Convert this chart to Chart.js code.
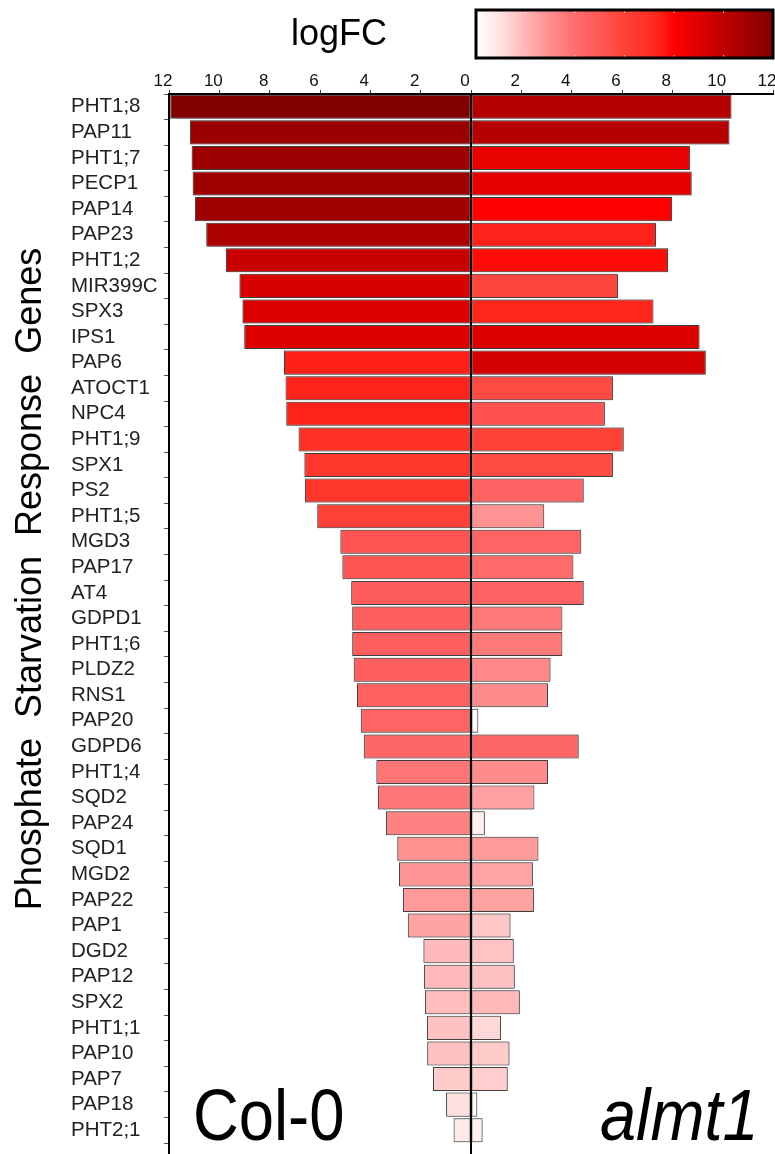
<!DOCTYPE html>
<html>
<head>
<meta charset="utf-8">
<script src="https://cdn.jsdelivr.net/npm/chart.js@4/dist/chart.umd.min.js"></script>
<style>
  html, body { margin: 0; padding: 0; background: #ffffff; }
  #wrap { width: 775px; height: 1154px; position: relative; }
</style>
</head>
<body>
<div id="wrap"><canvas id="chart" width="775" height="1154"></canvas></div>
<script>
// Phosphate starvation response genes, ordered by Col-0 response
const genes = [
  'PHT1;8', 'PAP11', 'PHT1;7', 'PECP1', 'PAP14', 'PAP23', 'PHT1;2', 'MIR399C',
  'SPX3', 'IPS1', 'PAP6', 'ATOCT1', 'NPC4', 'PHT1;9', 'SPX1', 'PS2', 'PHT1;5',
  'MGD3', 'PAP17', 'AT4', 'GDPD1', 'PHT1;6', 'PLDZ2', 'RNS1', 'PAP20', 'GDPD6',
  'PHT1;4', 'SQD2', 'PAP24', 'SQD1', 'MGD2', 'PAP22', 'PAP1', 'DGD2', 'PAP12',
  'SPX2', 'PHT1;1', 'PAP10', 'PAP7', 'PAP18', 'PHT2;1'
];

// log fold change, wild type (drawn to the left)
const col0LogFC = [
  11.95, 11.17, 11.10, 11.06, 10.97, 10.52, 9.74, 9.20,
  9.08, 9.01, 7.43, 7.37, 7.34, 6.85, 6.62, 6.60, 6.11,
  5.19, 5.11, 4.76, 4.72, 4.72, 4.66, 4.53, 4.38, 4.26,
  3.76, 3.70, 3.38, 2.93, 2.86, 2.70, 2.51, 1.89, 1.87,
  1.83, 1.75, 1.74, 1.51, 0.99, 0.69
];

// log fold change, almt1 mutant (drawn to the right)
const almt1LogFC = [
  10.35, 10.27, 8.70, 8.77, 7.99, 7.35, 7.83, 5.84,
  7.25, 9.08, 9.33, 5.64, 5.32, 6.07, 5.64, 4.48, 2.91,
  4.38, 4.07, 4.48, 3.63, 3.63, 3.16, 3.06, 0.29, 4.28,
  3.06, 2.52, 0.55, 2.68, 2.46, 2.50, 1.57, 1.70, 1.74,
  1.94, 1.19, 1.53, 1.46, 0.25, 0.46
];

const axisMax = 12;
const axisStep = 2;

// white -> red -> dark red colour scale for logFC
const colourStops = [
  [0, [255, 255, 255]], [1, [255, 224, 224]], [2, [255, 182, 182]],
  [3, [255, 142, 142]], [4, [255, 108, 108]], [5, [255, 88, 88]],
  [6, [255, 66, 56]], [7, [255, 46, 36]], [7.6, [255, 26, 18]],
  [8, [255, 0, 0]], [10, [192, 0, 0]], [12, [128, 0, 0]]
];

function colourFor(v) {
  const val = Math.max(0, Math.min(axisMax, v));
  for (let i = 1; i < colourStops.length; i++) {
    const [v1, c1] = colourStops[i];
    const [v0, c0] = colourStops[i - 1];
    if (val <= v1) {
      const t = (val - v0) / (v1 - v0);
      const c = c0.map((a, k) => Math.round(a + (c1[k] - a) * t));
      return `rgb(${c[0]},${c[1]},${c[2]})`;
    }
  }
  return 'rgb(128,0,0)';
}

const FONT = "'Liberation Sans', Arial, Helvetica, sans-serif";

const decorations = {
  id: 'decorations',
  beforeDatasetsDraw(chart) {
    const ctx = chart.ctx;
    ctx.save();
    ctx.shadowColor = 'rgba(0,0,0,0.35)';
    ctx.shadowBlur = 2.5;
  },
  afterDatasetsDraw(chart) {
    chart.ctx.restore();
  },
  afterDraw(chart) {
    const { ctx, chartArea, scales } = chart;
    const H = chart.height;
    const x0 = scales.x.getPixelForValue(0);

    // frame line and zero line, running to the bottom edge
    ctx.save();
    ctx.strokeStyle = '#000';
    ctx.lineWidth = 2;
    ctx.beginPath();
    ctx.moveTo(chartArea.left, chartArea.top);
    ctx.lineTo(chartArea.left, H);
    ctx.moveTo(x0, chartArea.top);
    ctx.lineTo(x0, H);
    ctx.stroke();
    ctx.restore();

    // axis title
    ctx.save();
    ctx.translate(31, 579);
    ctx.rotate(-Math.PI / 2);
    ctx.fillStyle = '#000';
    ctx.font = `36px ${FONT}`;
    ctx.textAlign = 'center';
    ctx.textBaseline = 'middle';
    ctx.fillText('Phosphate  Starvation  Response  Genes', 0, 0);
    ctx.restore();

    // genotype labels
    ctx.save();
    ctx.fillStyle = '#000';
    ctx.translate(193, 1140);
    ctx.scale(0.88, 1);
    ctx.font = `72px ${FONT}`;
    ctx.textBaseline = 'alphabetic';
    ctx.fillText('Col-0', 0, 0);
    ctx.restore();

    ctx.save();
    ctx.fillStyle = '#000';
    ctx.translate(600, 1140);
    ctx.scale(0.9, 1);
    ctx.font = `italic 72px ${FONT}`;
    ctx.textBaseline = 'alphabetic';
    ctx.fillText('almt1', 0, 0);
    ctx.restore();

    // colour bar legend
    const cbL = 476, cbR = 773, cbT = 10, cbB = 58;
    ctx.save();
    const grad = ctx.createLinearGradient(cbL, 0, cbR, 0);
    colourStops.forEach(([v]) => grad.addColorStop(v / axisMax, colourFor(v)));
    ctx.fillStyle = grad;
    ctx.fillRect(cbL, cbT, cbR - cbL, cbB - cbT);
    ctx.fillStyle = 'rgba(255,255,255,0.8)';
    for (let v = axisStep; v < axisMax; v += axisStep) {
      const px = cbL + (cbR - cbL) * v / axisMax;
      ctx.fillRect(px - 0.5, cbT + 1, 1, 2);
      ctx.fillRect(px - 0.5, cbB - 3, 1, 2);
    }
    ctx.strokeStyle = '#000';
    ctx.lineWidth = 3;
    ctx.strokeRect(cbL, cbT, cbR - cbL, cbB - cbT);
    ctx.fillStyle = '#000';
    ctx.font = `36px ${FONT}`;
    ctx.textAlign = 'center';
    ctx.textBaseline = 'middle';
    ctx.fillText('logFC', 339, 35);
    ctx.restore();
  }
};

const barStyle = {
  borderColor: 'rgba(45,45,45,0.85)',
  borderWidth: 1,
  borderSkipped: false,
  barPercentage: 0.94,
  categoryPercentage: 1.0
};

new Chart(document.getElementById('chart'), {
  type: 'bar',
  data: {
    labels: genes,
    datasets: [
      Object.assign({
        label: 'Col-0',
        data: col0LogFC.map(v => -v),
        backgroundColor: col0LogFC.map(colourFor)
      }, barStyle),
      Object.assign({
        label: 'almt1',
        data: almt1LogFC,
        backgroundColor: almt1LogFC.map(colourFor)
      }, barStyle)
    ]
  },
  options: {
    indexAxis: 'y',
    responsive: false,
    animation: false,
    layout: { padding: { left: 71, top: 0, right: 2, bottom: 11 } },
    plugins: { legend: { display: false }, tooltip: { enabled: false } },
    scales: {
      x: {
        position: 'top',
        stacked: true,
        min: -axisMax,
        max: axisMax,
        afterFit(scale) {
          scale.height = 94;
          scale.paddingLeft = 0;
          scale.paddingRight = 0;
        },
        grid: { drawOnChartArea: false, drawTicks: true, tickLength: 4, tickColor: '#333', tickWidth: 1 },
        border: { display: true, color: '#000', width: 2 },
        ticks: {
          stepSize: axisStep,
          autoSkip: false,
          maxRotation: 0,
          padding: -2,
          labelOffset: -6,
          color: '#111',
          font: { family: FONT, size: 17 },
          callback: v => Math.abs(v)
        }
      },
      y: {
        stacked: true,
        afterFit(scale) {
          scale.width = 98;
          scale.paddingTop = 0;
          scale.paddingBottom = 0;
        },
        grid: { drawOnChartArea: false, drawTicks: true, tickLength: 5, tickColor: '#555' },
        border: { display: true, color: '#000', width: 2 },
        ticks: {
          crossAlign: 'far',
          autoSkip: false,
          color: '#222',
          font: { family: FONT, size: 20.5 }
        }
      }
    }
  },
  plugins: [decorations]
});
</script>
</body>
</html>
